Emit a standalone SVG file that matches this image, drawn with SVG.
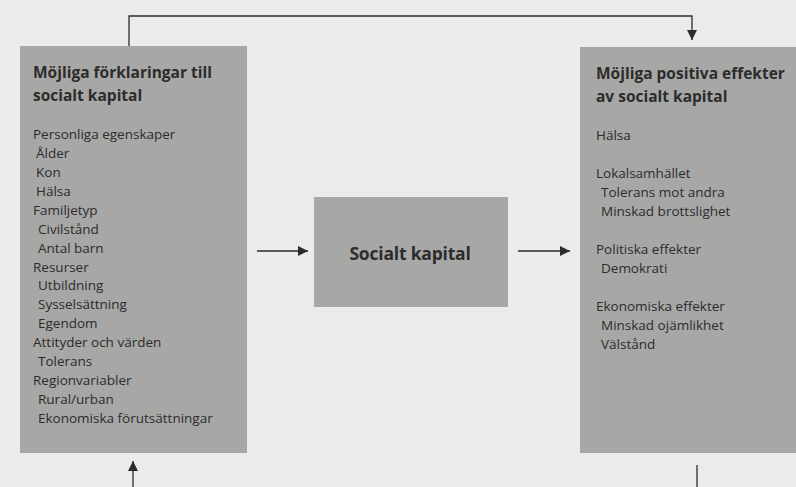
<svg xmlns="http://www.w3.org/2000/svg" width="796" height="487" viewBox="0 0 796 487">
<defs>
<marker id="ah" viewBox="0 0 10 10" refX="10" refY="5" markerWidth="14" markerHeight="10" markerUnits="userSpaceOnUse" orient="auto">
<path d="M0,0 L10,5 L0,10 z" fill="#2b2b2b"/>
</marker>
</defs>
<style>
.bg{fill:#ebebea}
.box{fill:#a7a7a6}
.t{font-family:"Open Sans","Noto Sans","Liberation Sans",sans-serif;fill:#2c2c2c}
.h{font-size:15.5px;font-weight:bold}
.i{font-size:13.5px}
.c{font-size:17.5px;font-weight:bold;letter-spacing:-0.2px}
.ln{fill:none;stroke:#2b2b2b;stroke-width:1.3}
</style>
<rect class="bg" x="0" y="0" width="796" height="487"/>
<g id="connectors">
<path class="ln" d="M129,47 V16 H692 V40" marker-end="url(#ah)"/>
<line class="ln" x1="257" y1="251" x2="308" y2="251" marker-end="url(#ah)"/>
<line class="ln" x1="518" y1="251" x2="570" y2="251" marker-end="url(#ah)"/>
<line class="ln" x1="133" y1="487" x2="133" y2="461" marker-end="url(#ah)"/>
<line class="ln" x1="697" y1="465" x2="697" y2="487"/>
</g>
<g id="node-forklaringar">
<rect class="box" x="20" y="46" width="227" height="407"/>
<text class="t h" x="33" y="78">Möjliga förklaringar till</text>
<text class="t h" x="33" y="101">socialt kapital</text>
<text class="t i" x="33" y="139">Personliga egenskaper</text>
<text class="t i" x="36" y="158">Ålder</text>
<text class="t i" x="36" y="177">Kon</text>
<text class="t i" x="36" y="196">Hälsa</text>
<text class="t i" x="33" y="215">Familjetyp</text>
<text class="t i" x="38" y="234">Civilstånd</text>
<text class="t i" x="38" y="253">Antal barn</text>
<text class="t i" x="33" y="272">Resurser</text>
<text class="t i" x="38" y="290">Utbildning</text>
<text class="t i" x="38" y="309">Sysselsättning</text>
<text class="t i" x="38" y="328">Egendom</text>
<text class="t i" x="33" y="347">Attityder och värden</text>
<text class="t i" x="38" y="366">Tolerans</text>
<text class="t i" x="33" y="385">Regionvariabler</text>
<text class="t i" x="38" y="404">Rural/urban</text>
<text class="t i" x="38" y="423">Ekonomiska  förutsättningar</text>
</g>
<g id="node-socialt-kapital">
<rect class="box" x="314" y="197" width="194" height="110"/>
<text class="t c" x="410" y="260" text-anchor="middle">Socialt kapital</text>
</g>
<g id="node-effekter">
<rect class="box" x="580" y="47" width="216" height="406"/>
<text class="t h" x="596" y="79">Möjliga positiva effekter</text>
<text class="t h" x="596" y="102">av socialt kapital</text>
<text class="t i" x="596" y="140">Hälsa</text>
<text class="t i" x="596" y="178">Lokalsamhället</text>
<text class="t i" x="601" y="197">Tolerans mot andra</text>
<text class="t i" x="601" y="216">Minskad brottslighet</text>
<text class="t i" x="596" y="254">Politiska effekter</text>
<text class="t i" x="601" y="273">Demokrati</text>
<text class="t i" x="596" y="311">Ekonomiska effekter</text>
<text class="t i" x="601" y="330">Minskad ojämlikhet</text>
<text class="t i" x="601" y="349">Välstånd</text>
</g>
</svg>
